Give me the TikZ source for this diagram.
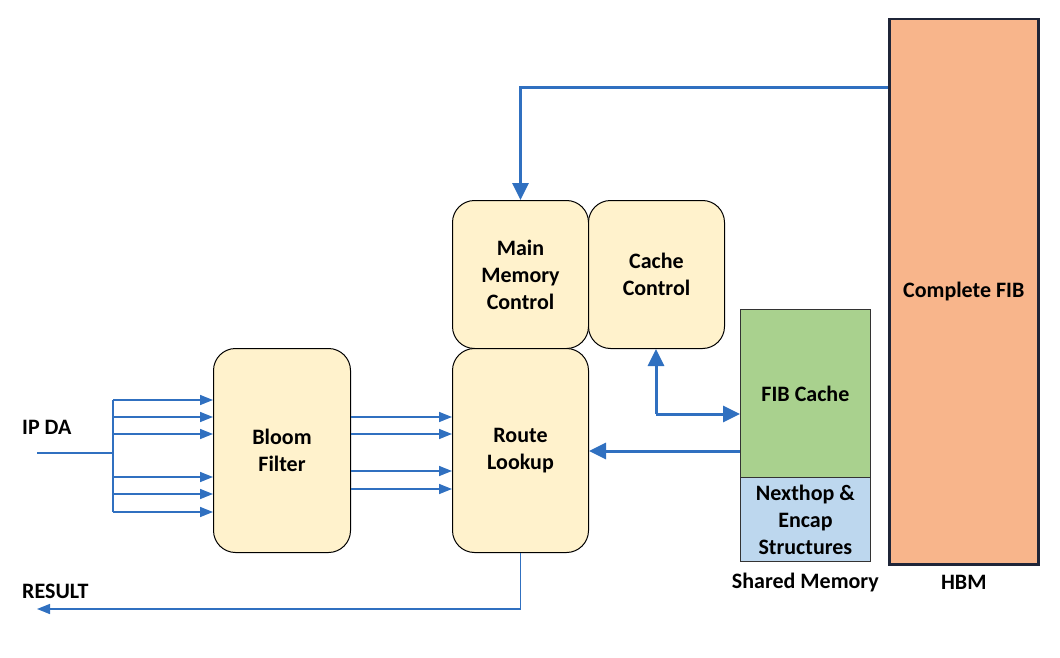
\documentclass[tikz,border=0pt]{standalone}
\usepackage{fontspec}
\setmainfont{Carlito}
\usetikzlibrary{arrows.meta,positioning,calc}
\definecolor{lnblue}{HTML}{3070C0}
\definecolor{boxfill}{HTML}{FFF2CC}
\definecolor{cachegreen}{HTML}{A9D18E}
\definecolor{nhblue}{HTML}{BDD7EE}
\definecolor{hbmorange}{HTML}{F8B58B}
\definecolor{hbmedge}{HTML}{1F2538}

\tikzset{
  block/.style={draw=black,line width=1pt,fill=boxfill,rounded corners=22pt,
    anchor=north west,align=center,inner sep=0pt},
  memblk/.style={draw=black!80,line width=0.8pt,anchor=north west,align=center,inner sep=0pt},
  lbl/.style={inner sep=0pt},
  thinar/.style={lnblue,line width=1.5pt,-{Triangle[length=13pt,width=10pt]}},
  thickar/.style={lnblue,line width=3pt,-{Triangle[length=17pt,width=16pt]}},
  thinln/.style={lnblue,line width=1.5pt}
}

\begin{document}
\begin{tikzpicture}[x=1pt,y=-1pt,font=\fontsize{22}{27}\selectfont\bfseries]
  \useasboundingbox (0,0) rectangle (1060,658);
  % blocks
  \node[block,minimum width=137pt,minimum height=204pt] (bloom) at (213,348) {Bloom\\Filter};
  \node[block,minimum width=136pt,minimum height=148pt] (mmc) at (452,200) {Main\\Memory\\Control};
  \node[block,minimum width=136pt,minimum height=148pt] (cc) at (588,200) {Cache\\Control};
  \node[block,minimum width=136pt,minimum height=204pt] (route) at (452,348) {Route\\Lookup};
  % memories
  \node[memblk,fill=cachegreen,minimum width=130pt,minimum height=168pt] (fibc) at (740,309) {FIB Cache};
  \node[memblk,fill=nhblue,minimum width=130pt,minimum height=84pt] (nexthop) at (740,477) {Nexthop \&\\Encap\\Structures};
  \node[memblk,draw=hbmedge,line width=2.5pt,fill=hbmorange,minimum width=149pt,minimum height=545pt] (hbm) at (888,18) {Complete FIB};
  \node[lbl,below=11pt of nexthop] (shm) {Shared Memory};
  \node[lbl] (hbmlbl) at (hbm.south |- shm) {HBM};
  \node[lbl,anchor=west] (ipda) at (22,427) {IP DA};
  \node[lbl,anchor=west] (result) at (22,591) {RESULT};

  % input fan-out
  \coordinate (ipin) at (37,453);
  \coordinate (bus) at (113,453);
  \draw[thinln] (ipin) -- (bus);
  \draw[thinln] (bus |- 0,400) -- (bus |- 0,512);
  \foreach \y in {400,417,434,477,494,512}
    {\draw[thinar] (bus |- 0,\y) -- (bloom.west |- 0,\y);}
  % bloom filter to route lookup
  \foreach \y in {417,434,471,489}
    {\draw[thinar] (bloom.east |- 0,\y) -- (route.west |- 0,\y);}
  % result
  \coordinate (resout) at (37,609);
  \draw[thinar] (route.south) |- (resout);
  % complete FIB to main memory control
  \draw[thickar] (hbm.west |- 0,88) -| (mmc.north);
  % cache control and FIB cache
  \coordinate (cclink) at (656,414);
  \draw[thickar] (cclink) -- (cc.south -| cclink);
  \draw[thickar] (cclink) -- (fibc.west |- cclink);
  \draw[thickar] (fibc.west |- 0,451) -- (route.east |- 0,451);
\end{tikzpicture}
\end{document}
